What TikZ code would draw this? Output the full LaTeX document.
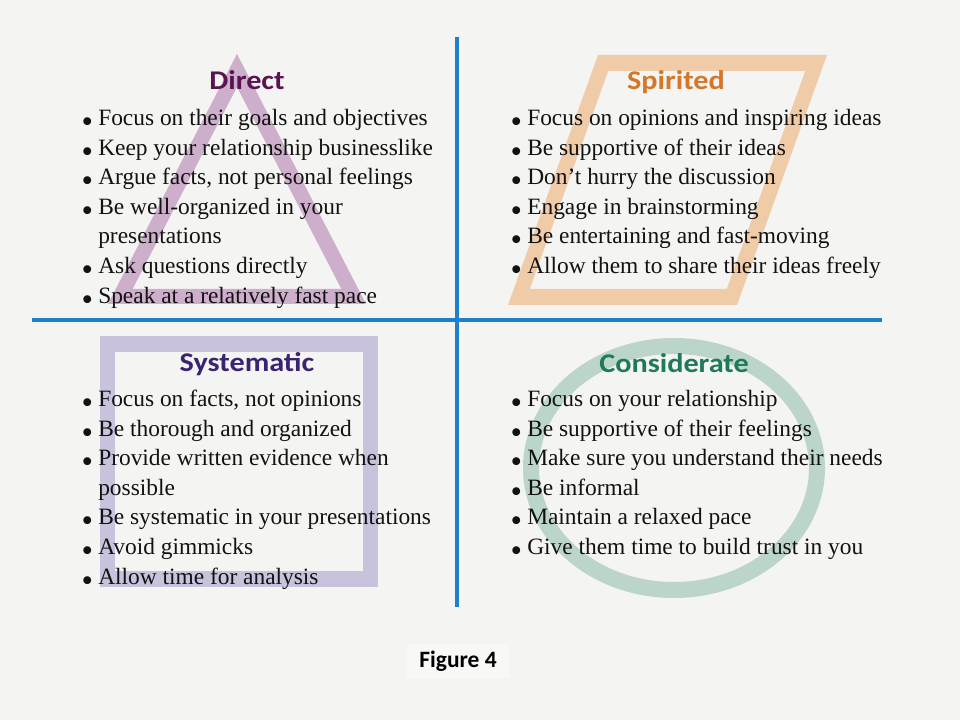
\documentclass[tikz,border=0pt]{standalone}
\usepackage{fontspec}
\setmainfont{Liberation Serif}
\newfontfamily\carl{Carlito}
\definecolor{bgc}{HTML}{F4F4F2}
\definecolor{bluel}{HTML}{1E7FCB}
\definecolor{tri}{HTML}{CDAECB}
\definecolor{par}{HTML}{F0CBA8}
\definecolor{sqr}{HTML}{C8C2DD}
\definecolor{cir}{HTML}{BBD6C9}
\definecolor{tdir}{HTML}{5A1550}
\definecolor{tspi}{HTML}{D4772A}
\definecolor{tsys}{HTML}{3B2373}
\definecolor{tcon}{HTML}{1F7A5C}
\newcommand\bul{\llap{\raisebox{-5.3pt}{\scalebox{1.4}{•}}\kern3.9pt}}
\newcommand\ttl[1]{\scalebox{1.12}[1]{#1}}
\newcommand\twolines[2]{\vtop{\baselineskip=22.2pt\hbox{\bul #1}\hbox{#2}}}
\begin{document}
\begin{tikzpicture}[x=0.75pt,y=-0.75pt,
  item/.style={anchor=base west,inner sep=0pt,font=\fontsize{17.55pt}{22.2pt}\selectfont,text=black!93},
  title/.style={anchor=base,inner sep=0pt,font=\carl\bfseries\fontsize{20.25pt}{24pt}\selectfont},
  quad/.style={draw=bluel,line width=3pt}]
\fill[bgc] (0,0) rectangle (960,720);
\useasboundingbox (0,0) rectangle (960,720);
% background shapes
\fill[tri,even odd rule] (237,54) -- (108,304) -- (366,304) -- cycle
   (237,87) -- (132.6,289) -- (341.4,289) -- cycle;
\fill[par,even odd rule] (598,55) -- (827,55) -- (737,305) -- (508,305) -- cycle
   (608.2,71) -- (805.2,71) -- (726.8,289) -- (529.8,289) -- cycle;
\draw[sqr,line width=11.6pt] (107.7,343.8) rectangle (370.3,579.2);
\draw[cir,line width=12pt] (674,468) ellipse [x radius=143,y radius=122];
% axes
\coordinate (vt) at (457,37); \coordinate (vb) at (457,607);
\coordinate (hl) at (32,320); \coordinate (hr) at (882,320);
\draw[quad] (vt) -- (vb);
\draw[quad] (hl) -- (hr);
% Direct
\node[title,text=tdir] (tD) at (247,90) {\ttl{Direct}};
\node[item] (d1) at (98,125.5) {\bul Focus on their goals and objectives};
\node[item] (d2) at (98,155.1) {\bul Keep your relationship businesslike};
\node[item] (d3) at (98,184.7) {\bul Argue facts, not personal feelings};
\node[item] (d4) at (98,214.3) {\twolines{Be well-organized in your}{presentations}};
\node[item] (d6) at (98,273.5) {\bul Ask questions directly};
\node[item] (d7) at (98,303.1) {\bul Speak at a relatively fast pace};
% Spirited
\node[title,text=tspi] (tS) at (676,90) {\ttl{Spirited}};
\node[item] (s1) at (527,125.5) {\bul Focus on opinions and inspiring ideas};
\node[item] (s2) at (527,155.1) {\bul Be supportive of their ideas};
\node[item] (s3) at (527,184.7) {\bul Don’t hurry the discussion};
\node[item] (s4) at (527,214.3) {\bul Engage in brainstorming};
\node[item] (s5) at (527,243.9) {\bul Be entertaining and fast-moving};
\node[item] (s6) at (527,273.5) {\bul Allow them to share their ideas freely};
% Systematic
\node[title,text=tsys] (tY) at (247,371) {\ttl{Systematic}};
\node[item] (y1) at (98,406.5) {\bul Focus on facts, not opinions};
\node[item] (y2) at (98,436.1) {\bul Be thorough and organized};
\node[item] (y3) at (98,465.7) {\twolines{Provide written evidence when}{possible}};
\node[item] (y5) at (98,524.9) {\bul Be systematic in your presentations};
\node[item] (y6) at (98,554.5) {\bul Avoid gimmicks};
\node[item] (y7) at (98,584.1) {\bul Allow time for analysis};
% Considerate
\node[title,text=tcon] (tC) at (674,372) {\ttl{Considerate}};
\node[item] (c1) at (527,406.5) {\bul Focus on your relationship};
\node[item] (c2) at (527,436.1) {\bul Be supportive of their feelings};
\node[item] (c3) at (527,465.7) {\bul Make sure you understand their needs};
\node[item] (c4) at (527,495.3) {\bul Be informal};
\node[item] (c5) at (527,524.9) {\bul Maintain a relaxed pace};
\node[item] (c6) at (527,554.5) {\bul Give them time to build trust in you};
% caption
\node[anchor=base,fill=white!35!bgc,inner xsep=9pt,inner ysep=5pt,font=\carl\bfseries\fontsize{17.6pt}{20pt}\selectfont] (fig) at (458,667) {Figure 4};
\end{tikzpicture}
\end{document}
